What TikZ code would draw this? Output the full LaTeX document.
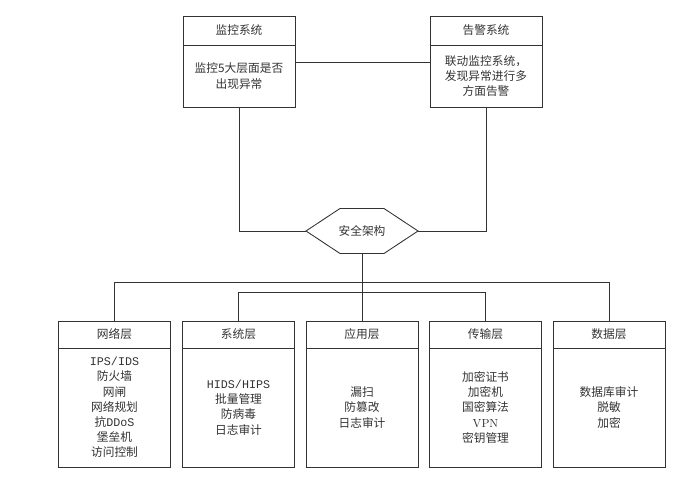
\documentclass[tikz,border=0pt]{standalone}
\usepackage{fontspec}
\newfontfamily\cjk{Noto Sans CJK SC}
\setmonofont{Liberation Mono}
\usepackage{tikz}
\usetikzlibrary{positioning}

\tikzset{
  head/.style={rectangle, draw, minimum width=3.36cm, inner sep=0pt, outer sep=0pt, font=\cjk},
  body/.style={rectangle, draw, minimum width=3.36cm, inner sep=0pt, outer sep=0pt, align=center, font=\cjk\fontsize{10}{13}\selectfont},
}

\begin{document}
\begin{tikzpicture}[x=0.03cm, y=-0.03cm, line width=0.75pt, color=black!80]
\useasboundingbox (0,0) rectangle (693,488);

\node [head, minimum height=0.87cm] at (239,30.5) (mon-head) {监控系统};
\node [body, minimum height=1.86cm, below=0pt of mon-head] (mon-body) {监控5大层面是否\\出现异常};
\node [head, minimum height=0.87cm] at (486,30.5) (alarm-head) {告警系统};
\node [body, minimum height=1.86cm, below=0pt of alarm-head] (alarm-body) {联动监控系统，\\发现异常进行多\\方面告警};

\node [minimum width=3.36cm, minimum height=1.35cm, inner sep=0pt, outer sep=0pt, font=\cjk] at (362,231) (hex) {安全架构};
\draw (hex.west) -- ([xshift=1.02cm]hex.north west) -- ([xshift=-1.02cm]hex.north east) -- (hex.east) -- ([xshift=-1.02cm]hex.south east) -- ([xshift=1.02cm]hex.south west) -- cycle;

\node [head, minimum height=0.81cm] at (114.5,334.5) (net-head) {网络层};
\node [body, minimum height=3.57cm, below=0pt of net-head] (net-body) {\texttt{IPS/IDS}\\防火墙\\网闸\\网络规划\\抗\texttt{DDoS}\\堡垒机\\访问控制};
\node [head, minimum height=0.81cm] at (238.5,334.5) (sys-head) {系统层};
\node [body, minimum height=3.57cm, below=0pt of sys-head] (sys-body) {\texttt{HIDS/HIPS}\\批量管理\\防病毒\\日志审计};
\node [head, minimum height=0.81cm] at (362,334.5) (app-head) {应用层};
\node [body, minimum height=3.57cm, below=0pt of app-head] (app-body) {漏扫\\防篡改\\日志审计};
\node [head, minimum height=0.81cm] at (485.5,334.5) (trans-head) {传输层};
\node [body, minimum height=3.57cm, below=0pt of trans-head] (trans-body) {加密证书\\加密机\\国密算法\\{\rmfamily VPN}\\密钥管理};
\node [head, minimum height=0.81cm] at (609,334.5) (data-head) {数据层};
\node [body, minimum height=3.57cm, below=0pt of data-head] (data-body) {数据库审计\\脱敏\\加密};

\coordinate (outerbus) at (362,282);
\coordinate (innerbus) at (362,292);

\draw ([yshift=-0.51cm]mon-body.north east) -- ([yshift=-0.51cm]alarm-body.north west);
\draw (mon-body.south) |- (hex.west);
\draw (alarm-body.south) |- (hex.east);
\draw (hex.south) -- (app-head.north);
\draw (outerbus) -| (net-head.north);
\draw (outerbus) -| (data-head.north);
\draw (innerbus) -| (sys-head.north);
\draw (innerbus) -| (trans-head.north);
\end{tikzpicture}
\end{document}
